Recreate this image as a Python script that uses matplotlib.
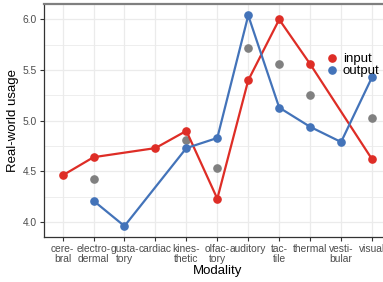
import numpy as np
import matplotlib
matplotlib.use("Agg")
from matplotlib import pyplot as plt
from matplotlib.lines import Line2D

plt.rcParams['font.family'] = ['Liberation Sans', 'DejaVu Sans']

modalities = ["cere-\nbral", "electro-\ndermal", "gusta-\ntory", "cardiac", "kines-\nthetic",
              "olfac-\ntory", "auditory", "tac-\ntile", "thermal", "vesti-\nbular", "visual"]

# NaN where a series has no value for that modality
input_usage = [4.46, 4.64, np.nan, 4.73, 4.90, 4.23, 5.40, 6.00, 5.56, np.nan, 4.62]
output_usage = [np.nan, 4.21, 3.96, np.nan, 4.73, 4.83, 6.04, 5.13, 4.94, 4.79, 5.43]
overall_usage = [np.nan, 4.42, np.nan, np.nan, 4.81, 4.53, 5.72, 5.56, 5.25, np.nan, 5.03]

red = "#DE2D26"
blue = "#4373B9"
grey = "#808080"

fig = plt.figure(figsize=(3.83, 2.82), dpi=100)
W, H = 383, 282
left, right, top, bottom = 44, 390.6, 4, 237
ax = fig.add_axes([left / W, 1 - bottom / H, (right - left) / W, (bottom - top) / H])

x = np.arange(len(modalities))

def draw(vals, color):
    v = np.array(vals, dtype=float)
    m = ~np.isnan(v)
    ax.plot(x[m], v[m], color=color, lw=1.6, marker="o", ms=5.2, zorder=3)

ax.plot(x, overall_usage, linestyle="none", marker="o", ms=5.2, color=grey, zorder=2)
draw(input_usage, red)
draw(output_usage, blue)

ax.set_xlim(-0.6, len(modalities) - 0.4)
ax.set_ylim(3.852, 6.153)
ax.set_xticks(x)
ax.set_xticklabels(modalities, fontsize=7.4, color="#4D4D4D", linespacing=0.95)
ax.set_yticks([4.0, 4.5, 5.0, 5.5, 6.0])
ax.set_yticklabels(["4.0", "4.5", "5.0", "5.5", "6.0"], fontsize=7.4, color="#4D4D4D")
ax.set_yticks([4.25, 4.75, 5.25, 5.75], minor=True)
ax.tick_params(axis="both", length=3, width=0.8, color="#333333", pad=2)
ax.tick_params(axis="y", which="minor", length=0)

ax.grid(True, which="major", color="#EBEBEB", lw=0.9)
ax.grid(True, which="minor", axis="y", color="#EBEBEB", lw=0.6)
ax.set_axisbelow(True)

ax.spines["right"].set_visible(False)
ax.spines["left"].set_color("#333333")
ax.spines["bottom"].set_color("#333333")
ax.spines["top"].set_color("#7F7F7F")
ax.spines["left"].set_linewidth(0.9)
ax.spines["bottom"].set_linewidth(0.9)
ax.spines["top"].set_linewidth(1.6)

ax.set_xlabel("Modality", fontsize=9.5, labelpad=1)
ax.set_ylabel("Real-world usage", fontsize=9.5, labelpad=3)

handles = [Line2D([], [], color=red, marker="o", linestyle="none", ms=5.2),
           Line2D([], [], color=blue, marker="o", linestyle="none", ms=5.2)]
ax.legend(handles, ["input", "output"], loc="upper left", bbox_to_anchor=(327 / W, 1 - 53 / H),
          bbox_transform=fig.transFigure, frameon=False, fontsize=9.5, handlelength=0.8,
          handletextpad=0.4, labelspacing=0.0, borderpad=0, borderaxespad=0)

fig.savefig("out.png", dpi=100)
